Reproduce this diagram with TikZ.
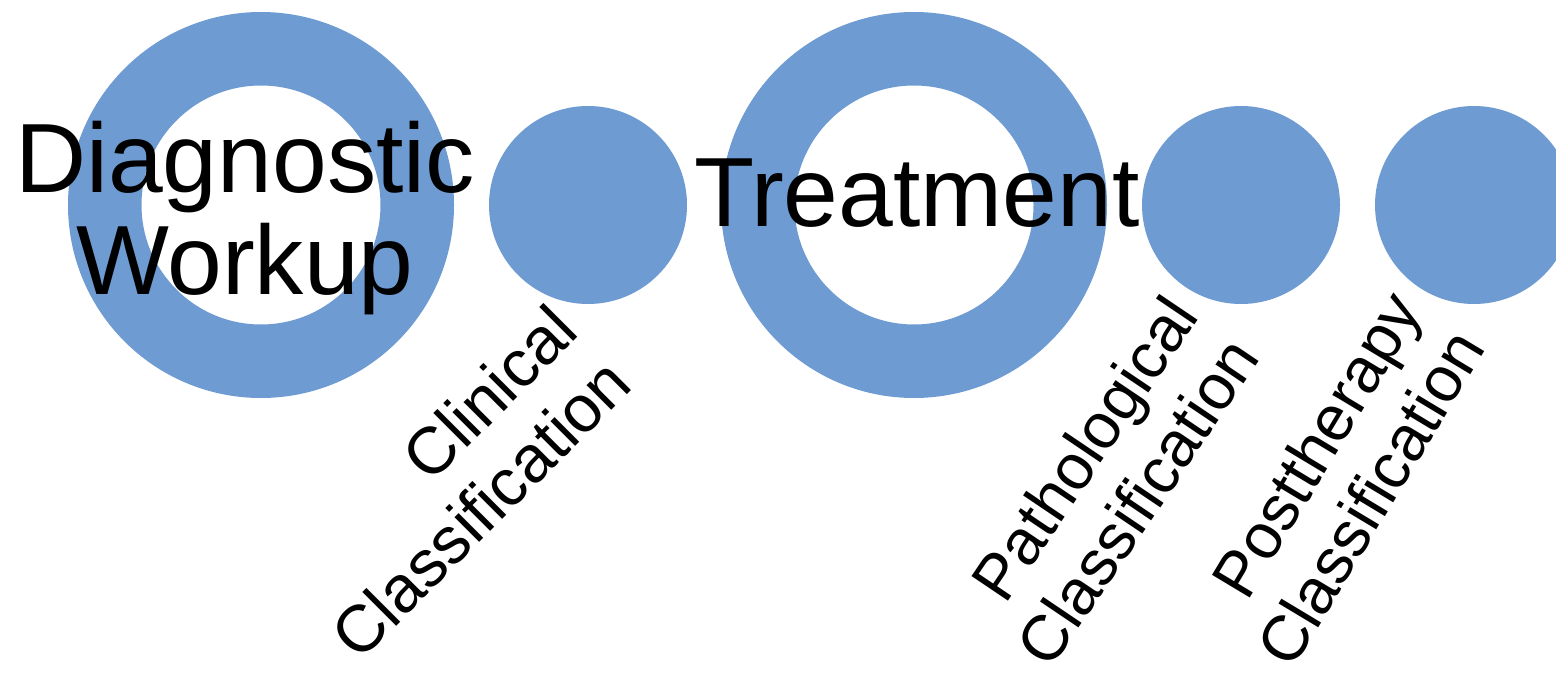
\documentclass[tikz,border=0pt]{standalone}
\usepackage{fontspec}
\setmainfont{Liberation Sans}
\definecolor{stageblue}{RGB}{111,155,211}
\begin{document}
\begin{tikzpicture}[
    ring/.style={circle, draw=stageblue, line width=0.735cm, minimum size=3.125cm, inner sep=0},
    dot/.style={circle, fill=stageblue, minimum size=1.98cm, inner sep=0},
    phase/.style={font=\fontsize{28}{29}\selectfont, align=center, inner sep=0},
    tag/.style={font=\fontsize{18.8}{21.5}\selectfont, align=right, inner sep=0, anchor=south east}]
      \useasboundingbox (0,0) rectangle (15.56,-6.73);
      \clip (0,0) rectangle (15.56,-6.73);
      \node [ring] (diag) at (2.61,-2.05) {};
      \node [dot] (clin) at (5.88,-2.05) {};
      \node [ring] (treat) at (9.14,-2.05) {};
      \node [dot] (path) at (12.41,-2.05) {};
      \node [dot] (post) at (14.74,-2.05) {};
      \node [phase] (diagtext) at (2.45,-2.185) {Diagnostic\\Workup};
      \node [phase] (treattext) at (9.17,-1.93) {Treatment};
      \node [tag, rotate=45] (clintext) at (6.36,-3.88) {Clinical\\Classification};
      \node [tag, rotate=56, font=\fontsize{18.2}{21}\selectfont] (pathtext) at (12.63,-3.58) {Pathological\\Classification};
      \node [tag, rotate=59, font=\fontsize{18.2}{21}\selectfont] (posttext) at (14.88,-3.48) {Posttherapy\\Classification};
\end{tikzpicture}
\end{document}
